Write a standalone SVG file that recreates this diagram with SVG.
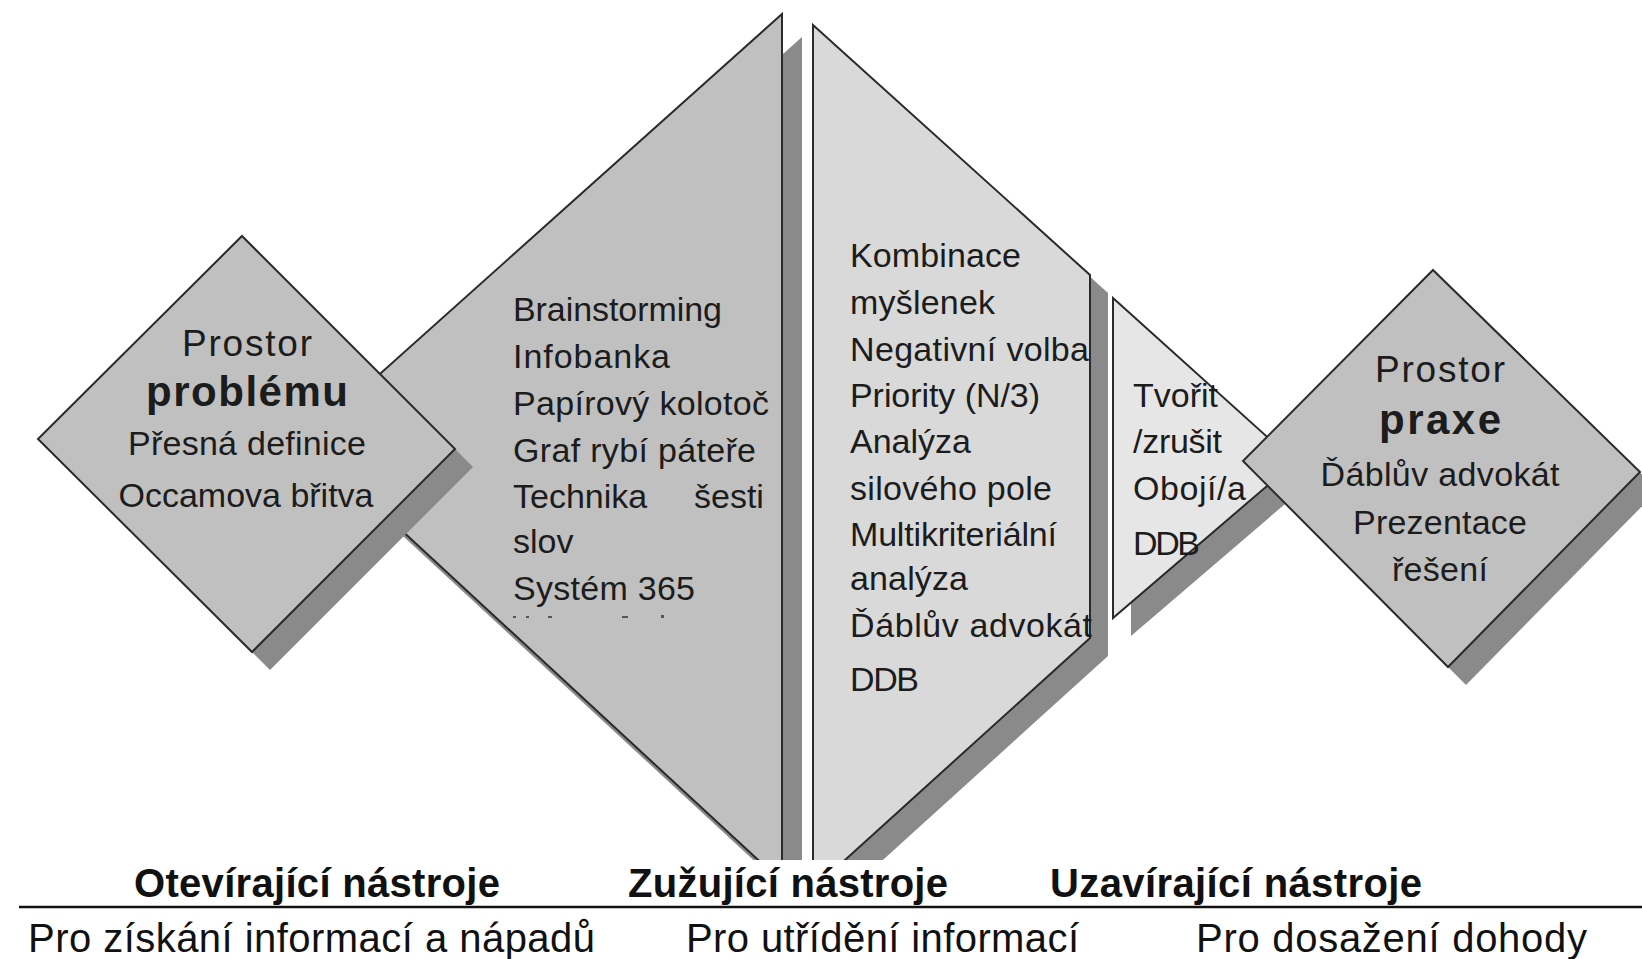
<svg xmlns="http://www.w3.org/2000/svg" width="1642" height="959" viewBox="0 0 1642 959">
<style>
.bg{fill:#ffffff}
.edge{stroke:#2a2a2a;stroke-width:2;stroke-linejoin:miter}
.sh{fill:#8a8a8a}
.f1{fill:#c0c0c0}
.f2{fill:#d9d9d9}
.f3{fill:#e6e6e6}
.t{font-family:"Liberation Sans",Arial,sans-serif;font-size:34px;fill:#1c1c1c}
.big{font-size:37px}
.c{text-anchor:middle}
.b{font-weight:bold;font-size:42px}
.lab{font-family:"Liberation Sans",Arial,sans-serif;font-size:40px;fill:#111111}
.lab.b{font-size:40px}
.mark{fill:#555555}
</style>
<defs>
<clipPath id="topArea"><rect x="0" y="0" width="1642" height="860"/></clipPath>
</defs>
<rect class="bg" x="0" y="0" width="1642" height="959"/>

<g id="opening-tools" clip-path="url(#topArea)">
<polygon class="sh" points="802,37 802,905 325,464"/>
<polygon class="f1 edge" points="782,14 782,882 305,441"/>
<text class="t" x="513" y="321" textLength="209">Brainstorming</text>
<text class="t" x="513" y="368" textLength="157">Infobanka</text>
<text class="t" x="513" y="415" textLength="256">Papírový kolotoč</text>
<text class="t" x="513" y="462" textLength="243">Graf rybí páteře</text>
<text class="t" x="513" y="508">Technika</text>
<text class="t" x="694" y="508">šesti</text>
<text class="t" x="513" y="553">slov</text>
<text class="t" x="513" y="600" textLength="182">Systém 365</text>
<rect class="mark" x="513" y="616" width="3" height="2"/>
<rect class="mark" x="526" y="616" width="3" height="2"/>
<rect class="mark" x="548" y="616" width="4" height="2"/>
<rect class="mark" x="622" y="616" width="6" height="2"/>
<rect class="mark" x="661" y="615" width="3" height="3"/>
</g>

<g id="narrowing-tools" clip-path="url(#topArea)">
<polygon class="sh" points="831,43 1108,293 1108,656 831,907"/>
<polygon class="f2 edge" points="813,25 1090,275 1090,638 813,889"/>
<text class="t" x="850" y="267" textLength="171">Kombinace</text>
<text class="t" x="850" y="314" textLength="145">myšlenek</text>
<text class="t" x="850" y="361" textLength="239">Negativní volba</text>
<text class="t" x="850" y="407" textLength="190">Priority (N/3)</text>
<text class="t" x="850" y="453" textLength="121">Analýza</text>
<text class="t" x="850" y="500" textLength="202">silového pole</text>
<text class="t" x="850" y="546" textLength="207">Multikriteriální</text>
<text class="t" x="850" y="590" textLength="118">analýza</text>
<text class="t" x="850" y="637" textLength="242">Ďáblův advokát</text>
<text class="t" x="850" y="691" textLength="69">DDB</text>
</g>

<g id="closing-tools">
<polygon class="sh" points="1131,316 1313,480 1131,636"/>
<polygon class="f3 edge" points="1113,298 1295,462 1113,618"/>
<text class="t" x="1133" y="407" textLength="85">Tvořit</text>
<text class="t" x="1133" y="453" textLength="89">/zrušit</text>
<text class="t" x="1133" y="500" textLength="113">Obojí/a</text>
<text class="t" x="1133" y="555" textLength="67">DDB</text>
</g>

<g id="problem-space">
<polygon class="sh" points="260,254 473,467 270,670 56,457"/>
<polygon class="f1 edge" points="242,236 455,449 252,652 38,439"/>
<text class="t c big" x="247" y="356" textLength="130">Prostor</text>
<text class="t c b" x="247" y="406" textLength="202">problému</text>
<text class="t c" x="247" y="455" textLength="238">Přesná definice</text>
<text class="t c" x="246" y="507" textLength="255">Occamova břitva</text>
</g>

<g id="practice-space">
<polygon class="sh" points="1451,288 1658,490 1466,685 1261,479"/>
<polygon class="f1 edge" points="1433,270 1640,472 1448,667 1243,461"/>
<text class="t c big" x="1440" y="382" textLength="130">Prostor</text>
<text class="t c b" x="1440" y="434" textLength="122">praxe</text>
<text class="t c" x="1440" y="486" textLength="239">Ďáblův advokát</text>
<text class="t c" x="1440" y="534" textLength="174">Prezentace</text>
<text class="t c" x="1440" y="581" textLength="96">řešení</text>
</g>

<g id="connectors"></g>

<g id="legend">
<line x1="19" y1="907" x2="1642" y2="907" stroke="#111111" stroke-width="2.5"/>
<text class="lab b" x="134" y="897" textLength="366">Otevírající nástroje</text>
<text class="lab b" x="628" y="897" textLength="320">Zužující nástroje</text>
<text class="lab b" x="1050" y="897" textLength="372">Uzavírající nástroje</text>
<text class="lab" x="28" y="952" textLength="567">Pro získání informací a nápadů</text>
<text class="lab" x="686" y="952" textLength="393">Pro utřídění informací</text>
<text class="lab" x="1196" y="952" textLength="391">Pro dosažení dohody</text>
</g>
</svg>
